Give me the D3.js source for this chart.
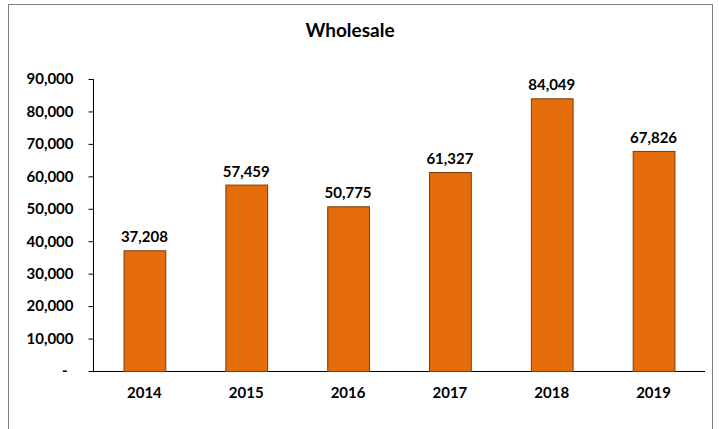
<!DOCTYPE html>
<html>
<head>
<meta charset="utf-8">
<script src="https://d3js.org/d3.v7.min.js"></script>
<style>
  body { margin: 0; background: #fff; }
  text { font-family: Lato, "Open Sans", sans-serif; font-weight: bold; fill: #000; }
</style>
</head>
<body>
<div id="chart"></div>
<script>
var years = ["2014", "2015", "2016", "2017", "2018", "2019"];
var wholesale = [37208, 57459, 50775, 61327, 84049, 67826];
var yTicks = [0, 10000, 20000, 30000, 40000, 50000, 60000, 70000, 80000, 90000];

var width = 719, height = 429;

var svg = d3.select("#chart").append("svg")
    .attr("width", width)
    .attr("height", height);

// chart frame
svg.append("rect")
    .attr("x", 8.5).attr("y", 4.5)
    .attr("width", 704).attr("height", 440)
    .attr("fill", "#fff")
    .attr("stroke", "#7f7f7f")
    .attr("stroke-width", 1);

svg.append("text")
    .attr("x", 350).attr("y", 37)
    .attr("text-anchor", "middle")
    .style("font-size", "19px")
    .text("Wholesale");

var x = d3.scaleBand()
    .domain(years)
    .range([93, 705])
    .paddingInner(0.59)
    .paddingOuter(0.3);

var y = d3.scaleLinear()
    .domain([0, 90000])
    .range([371, 79]);

var fmt = d3.format(",");

// y axis
var yAxis = svg.append("g")
    .attr("transform", "translate(93.5,0)")
    .call(d3.axisLeft(y)
        .tickValues(yTicks)
        .tickSize(5)
        .tickPadding(15)
        .tickFormat(function (d) { return d === 0 ? "-" : fmt(d); }));
yAxis.select(".domain").attr("stroke", "#000").attr("d", "M0," + y(90000) + "V" + y(0));
yAxis.selectAll(".tick line").attr("stroke", "#000");
yAxis.selectAll(".tick text")
    .style("font-size", "15px")
    .style("font-family", "Lato, 'Open Sans', sans-serif")
    .style("font-weight", "bold")
    .attr("fill", "#000");
yAxis.selectAll(".tick").filter(function (d) { return d === 0; }).select("text").attr("dx", -6);

// baseline
svg.append("line")
    .attr("x1", 93).attr("x2", 705)
    .attr("y1", y(0) + 0.5).attr("y2", y(0) + 0.5)
    .attr("stroke", "#000");

// bars
svg.append("g").selectAll("rect")
    .data(wholesale)
    .enter().append("rect")
    .attr("x", function (d, i) { return x(years[i]) + 0.5; })
    .attr("y", function (d) { return y(d) + 0.5; })
    .attr("width", x.bandwidth())
    .attr("height", function (d) { return y(0) - y(d); })
    .attr("fill", "#E46C0A")
    .attr("stroke", "#7a3d10")
    .attr("stroke-width", 1);

// value labels
svg.append("g").selectAll("text")
    .data(wholesale)
    .enter().append("text")
    .attr("x", function (d, i) { return x(years[i]) + x.bandwidth() / 2; })
    .attr("y", function (d) { return y(d) - 8; })
    .attr("text-anchor", "middle")
    .style("font-size", "15px")
    .text(function (d) { return fmt(d); });

// x labels
svg.append("g").selectAll("text")
    .data(years)
    .enter().append("text")
    .attr("x", function (d) { return x(d) + x.bandwidth() / 2; })
    .attr("y", 398)
    .attr("text-anchor", "middle")
    .style("font-size", "15px")
    .text(function (d) { return d; });
</script>
</body>
</html>
